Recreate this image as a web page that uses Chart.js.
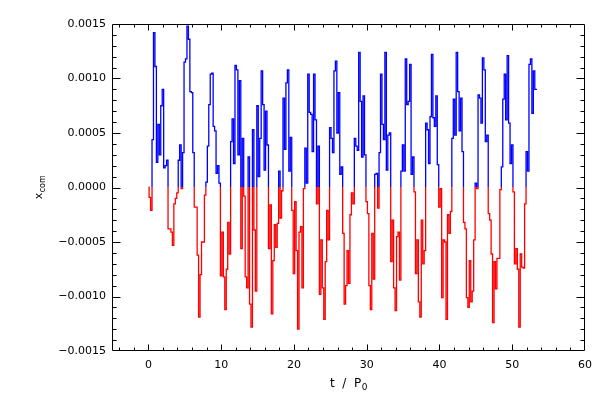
<!DOCTYPE html>
<html>
<head>
<meta charset="utf-8">
<script src="https://cdn.jsdelivr.net/npm/chart.js@4.4.0/dist/chart.umd.min.js"></script>
<style>
  html, body { margin: 0; padding: 0; background: #fff; }
</style>
</head>
<body>
<canvas id="xcomChart" width="600" height="400"></canvas>
<script>
// x_com against t / P0, one sample every 0.2 P0 from t = 0, values in units of 1e-4
const tStart = 0;
const tStep = 0.2;
const valueUnit = 1e-4;

const xcom00to08 = [
    0, -0.9, -2.1, 4.4, 14.2, 11.1, 2.3, 5.8, 3.0, 7.5,
    9.0, 1.8, 2.0, 2.5, -3.8, -3.8, -4.1, -5.3, -1.5, -1.0,
    -0.5, 2.5, 3.9, -0.1, 3.2, 11.5, 11.8, 14.8, 13.6, 8.8,
    8.7, 3.2, -1.8, -1.8, -6.2, -11.9, -8.0, -5.0, -5.0, -0.7,
    0.5, 3.8, 7.6
];
const xcom09to17 = [
    10.4, 10.5, 5.6, 5.2, 1.3, 2.0, 0.4, -8.1, -4.1, -8.2,
    -11.2, -7.5, -3.2, -6.1, 4.2, 6.3, 2.2, 11.2, 10.8, 3.0,
    9.8, -5.6, 4.5, -0.8, -8.2, -9.2, 2.8, -10.7, -12.8, 5.3,
    -3.9, -9.5, 7.5, 1.0, 4.5, 10.7, 7.6, 1.6, 7.0, 3.9,
    -5.6, -1.6, -11.6, -6.7, -3.4
];
const xcom18to26 = [
    -5.5, -3.3, 1.5, -2.8, -0.3, 8.2, 3.5, 9.6, 10.8, 1.5,
    4.6, -2.1, -7.9, -1.3, -5.8, -13.0, -4.1, -3.6, -9.2, -0.1,
    3.6, 0.4, 10.4, 6.9, 6.7, 3.3, 10.4, 6.2, -1.5, 3.8,
    -9.8, -4.8, -9.2, -12.1, -6.8, -2.1, -4.8, 5.5, 4.5, 3.2,
    10.7, 11.6, 5.0, 8.7
];
const xcom26to35 = [
    1.2, 1.9, -4.2, -10.7, -9.0, -5.8, -8.8, -2.5, -0.5, -1.5,
    4.5, 3.8, 3.4, 12.4, 7.9, 2.8, 8.4, 3.0, -1.3, -2.4,
    -9.0, -11.2, -4.2, -8.4, 1.2, 1.3, -1.9, 3.2, 10.4, 5.8,
    4.4, 12.4, 1.6, 4.8, 5.0, -6.8, -3.0, -9.2, -11.3, -4.5,
    -4.1, -8.5, 1.5, 3.9
];
const xcom35to44 = [
    1.5, 11.8, 7.6, 7.9, 11.3, 1.2, 2.8, -0.4, -7.9, -4.8,
    -10.5, -11.9, -3.0, -7.0, -5.8, 5.9, 5.3, 2.2, 6.5, 12.2,
    6.4, 5.6, 8.4, 2.1, -1.8, -0.1, -10.1, -4.8, -5.0, -12.1,
    -2.5, -4.2, -2.2, 4.5, 8.1, 4.8, 12.4, 8.8, 5.2, 8.2,
    3.3, -3.2, -3.8, -10.1, -11.0
];
const xcom44to53 = [
    -6.7, -10.5, -9.5, -4.8, 0.4, -0.1, 8.5, 8.2, 5.9, 11.9,
    10.8, 4.2, 4.8, -2.4, -3.0, -6.1, -12.4, -6.8, -9.3, -6.5,
    -6.5, -0.2, 1.9, 8.1, 10.4, 6.2, 12.1, 5.9, 2.2, 3.9,
    -0.4, -7.0, -5.6, -7.5, -12.8, -6.1, -7.3, -7.4, -1.5, 3.3,
    1.5, 11.3, 11.8, 6.8, 10.7, 9.0, 9.0
];

const xTicks = [0, 10, 20, 30, 40, 50, 60];
const yTicks = [-0.0015, -0.0010, -0.0005, 0, 0.0005, 0.0010, 0.0015];

const xcom = [].concat(xcom00to08, xcom09to17, xcom18to26, xcom26to35, xcom35to44, xcom44to53);
const points = xcom.map((v, i) => ({ x: tStart + i * tStep, y: v * valueUnit }));

const labelFont = { family: "DejaVu Sans", size: 11 };

// blue above zero, red below, split exactly at the zero pixel
function signColour(context) {
    const chart = context.chart;
    const area = chart.chartArea;
    if (!area) return "#0000ff";
    const y0 = chart.scales.y.getPixelForValue(0);
    const f = Math.min(1, Math.max(0, (y0 - area.top) / (area.bottom - area.top)));
    const g = chart.ctx.createLinearGradient(0, area.top, 0, area.bottom);
    g.addColorStop(0, "#0000ff");
    g.addColorStop(f, "#0000ff");
    g.addColorStop(f, "#ff0000");
    g.addColorStop(1, "#ff0000");
    return g;
}

// IDL style box: inward ticks on all four sides, plus the axis titles
const idlFrame = {
    id: "idlFrame",
    afterDraw(chart) {
        const { ctx, chartArea: a, scales: { x, y } } = chart;
        const L = Math.round(a.left) + 0.5, R = Math.round(a.right) - 0.5;
        const T = Math.round(a.top) + 0.5, B = Math.round(a.bottom) - 0.5;
        ctx.save();
        ctx.strokeStyle = "#000";
        ctx.lineWidth = 1;
        ctx.beginPath();
        ctx.rect(L, T, R - L, B - T);
        for (let v = -4; v <= 58; v += 2) {
            const px = Math.round(x.getPixelForValue(v)) + 0.5;
            const len = v % 10 === 0 ? 6 : 3;
            ctx.moveTo(px, B); ctx.lineTo(px, B - len);
            ctx.moveTo(px, T); ctx.lineTo(px, T + len);
        }
        for (let k = -14; k <= 14; k++) {
            const py = Math.round(y.getPixelForValue(k * 1e-4)) + 0.5;
            const len = k % 5 === 0 ? 8 : 4;
            ctx.moveTo(L, py); ctx.lineTo(L + len, py);
            ctx.moveTo(R, py); ctx.lineTo(R - len, py);
        }
        ctx.stroke();

        ctx.fillStyle = "#000";
        ctx.textBaseline = "alphabetic";
        // x title: t / P0
        const main = "t  /  P", sub = "0";
        ctx.font = "12px 'DejaVu Sans'";
        const wMain = ctx.measureText(main).width;
        ctx.font = "9px 'DejaVu Sans'";
        const wSub = ctx.measureText(sub).width;
        const cx = (a.left + a.right) / 2 - (wMain + wSub) / 2;
        ctx.font = "12px 'DejaVu Sans'";
        ctx.fillText(main, cx, 387);
        ctx.font = "9px 'DejaVu Sans'";
        ctx.fillText(sub, cx + wMain + 0.5, 390);

        // y title: x_com, rotated
        ctx.translate(42, y.getPixelForValue(0));
        ctx.rotate(-Math.PI / 2);
        ctx.font = "11px 'DejaVu Sans'";
        const wx = ctx.measureText("x").width;
        ctx.font = "8px 'DejaVu Sans'";
        const wc = ctx.measureText("com").width;
        const sx = -(wx + wc) / 2;
        ctx.font = "11px 'DejaVu Sans'";
        ctx.fillText("x", sx, 0);
        ctx.font = "8px 'DejaVu Sans'";
        ctx.fillText("com", sx + wx + 0.5, 3);
        ctx.restore();
    }
};

new Chart(document.getElementById("xcomChart").getContext("2d"), {
    type: "line",
    data: {
        datasets: [{
            data: points,
            stepped: "middle",
            borderColor: signColour,
            borderWidth: 1.3,
            pointRadius: 0,
            fill: false
        }]
    },
    options: {
        responsive: false,
        animation: false,
        devicePixelRatio: 1,
        layout: { padding: { top: 24, right: 15, left: 0, bottom: 0 } },
        plugins: { legend: { display: false }, tooltip: { enabled: false } },
        scales: {
            x: {
                type: "linear",
                min: -5,
                max: 60,
                afterBuildTicks: s => { s.ticks = xTicks.map(v => ({ value: v })); },
                afterFit: s => { s.height = 49; },
                grid: { display: false, drawTicks: false },
                border: { display: false },
                ticks: { color: "#000", font: labelFont, padding: 8, maxRotation: 0, callback: v => String(v) }
            },
            y: {
                type: "linear",
                min: -0.0015,
                max: 0.0015,
                afterBuildTicks: s => { s.ticks = yTicks.map(v => ({ value: v })); },
                afterFit: s => { s.width = 112; },
                grid: { display: false, drawTicks: false },
                border: { display: false },
                ticks: {
                    color: "#000",
                    font: labelFont,
                    padding: 6,
                    callback: v => (v < -1e-9 ? "\u2212" : "") + Math.abs(v).toFixed(4)
                }
            }
        }
    },
    plugins: [idlFrame]
});
</script>
</body>
</html>
